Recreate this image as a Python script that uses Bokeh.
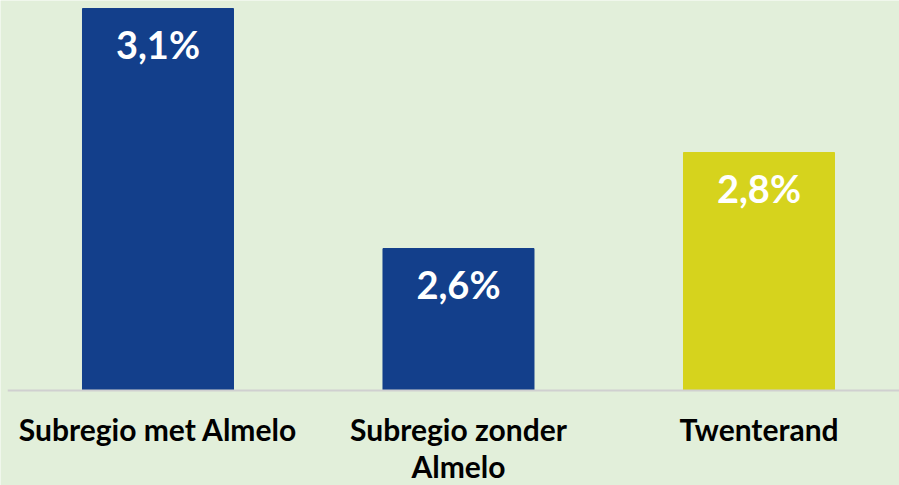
from bokeh.plotting import figure
from bokeh.models import Range1d, ColumnDataSource
from bokeh.core.properties import value
from bokeh.embed import file_html
from bokeh.resources import INLINE

categories = ["Subregio met Almelo", "Subregio zonder\nAlmelo", "Twenterand"]
values = [3.1, 2.6, 2.8]
value_labels = ["3,1%", "2,6%", "2,8%"]
bar_colors = ["#133F8B", "#133F8B", "#D6D31D"]

AXIS_MIN = 2.3042
AXIS_MAX = 3.1167
VIEW_MIN = 2.1063

positions = list(range(len(categories)))
src = ColumnDataSource(dict(x=positions, top=values, label=value_labels, color=bar_colors,
                            cat=categories, base=[AXIS_MIN] * len(categories)))

BG = "#E2EFDA"
p = figure(width=899, height=485, output_backend="svg", toolbar_location=None,
           x_range=Range1d(-0.5241, 2.4676), y_range=Range1d(VIEW_MIN, AXIS_MAX),
           min_border_left=0, min_border_right=0, min_border_top=0, min_border_bottom=0)
p.background_fill_color = BG
p.border_fill_color = BG
p.outline_line_color = None
p.grid.visible = False
p.axis.visible = False

p.vbar(x="x", top="top", bottom=AXIS_MIN, width=0.5025, color="color", source=src)
# baseline (category axis line)
p.segment(x0=[positions[0] - 0.5], x1=[positions[-1] + 0.5], y0=[AXIS_MIN], y1=[AXIS_MIN],
          line_color="#D0D0D0", line_width=2)
p.text(x="x", y="top", text="label", source=src, text_align="center", text_baseline="middle",
       y_offset=35, text_color="white", text_font=value("Lato"), text_font_style="bold",
       text_font_size="38px")
# category labels
p.text(x="x", y="base", text="cat", source=src, text_align="center", text_baseline="top",
       y_offset=20, text_color="#000000", text_font=value("Lato"), text_font_style="bold",
       text_font_size="30px", text_line_height=1.04)

open("out.html", "w").write(file_html(p, INLINE))
